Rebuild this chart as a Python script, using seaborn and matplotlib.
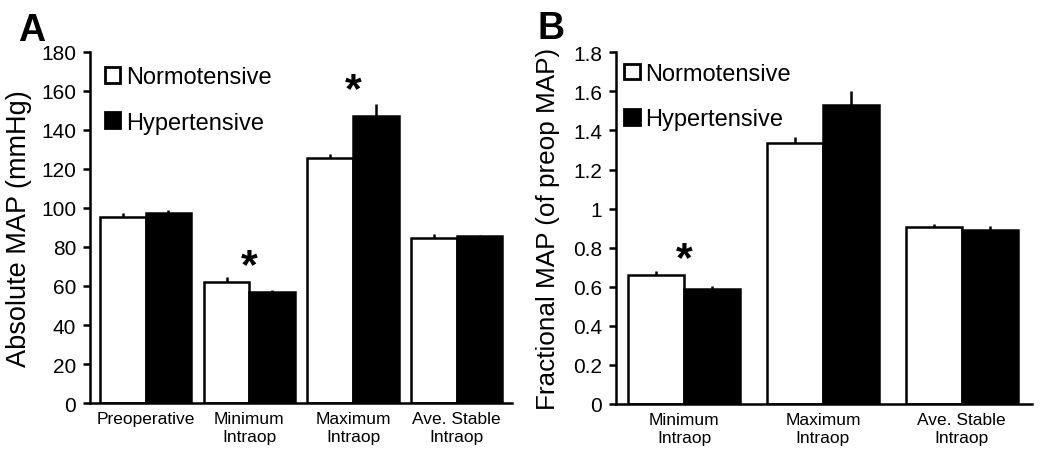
import pandas as pd
import matplotlib.pyplot as plt
import seaborn as sns
from matplotlib.patches import Patch
from matplotlib.ticker import FuncFormatter

# --- data ---
groups = ["Normotensive", "Hypertensive"]

cats_a = ["Preoperative", "Minimum\nIntraop", "Maximum\nIntraop", "Ave. Stable\nIntraop"]
norm_a = [95.2, 62.2, 125.6, 84.7]
norm_a_err = [2.2, 2.5, 2.3, 2.0]
hyper_a = [97.4, 56.8, 147.0, 85.6]
hyper_a_err = [1.6, 1.4, 6.3, 0.7]
stars_a = [(1, 70), (2, 160.5)]

cats_b = ["Minimum\nIntraop", "Maximum\nIntraop", "Ave. Stable\nIntraop"]
norm_b = [0.660, 1.334, 0.907]
norm_b_err = [0.022, 0.034, 0.014]
hyper_b = [0.589, 1.530, 0.890]
hyper_b_err = [0.017, 0.073, 0.021]
stars_b = [(0, 0.74)]

sns.set_style("ticks", {"axes.edgecolor": "black", "text.color": "black",
                        "axes.labelcolor": "black", "xtick.color": "black",
                        "ytick.color": "black"})
plt.rcParams["font.family"] = ["Liberation Sans", "DejaVu Sans"]


def panel(ax, cats, norm, norm_err, hyper, hyper_err, stars, width, ylim, yticks,
          ylabel, ylabel_size, xlim, legend_anchor, letter):
    df = pd.DataFrame({
        "cat": cats * 2,
        "val": norm + hyper,
        "err": norm_err + hyper_err,
        "grp": [groups[0]] * len(cats) + [groups[1]] * len(cats),
    })
    sns.barplot(data=df, x="cat", y="val", hue="grp", palette=["white", "black"],
                edgecolor="black", linewidth=1.8, width=width, gap=0,
                errorbar=None, legend=False, ax=ax)
    # upward-only error bars at each bar centre
    for cont, vals, errs in zip(ax.containers, [norm, hyper], [norm_err, hyper_err]):
        xs = [p.get_x() + p.get_width() / 2 for p in cont.patches]
        ax.errorbar(xs, vals, yerr=[[0] * len(errs), errs], fmt="none",
                    ecolor="black", elinewidth=1.8, capsize=0, zorder=1)
    for x, y in stars:
        ax.text(x, y, "*", ha="center", va="center", fontsize=31, fontweight="bold")

    ax.set_xlim(*xlim)
    ax.set_ylim(*ylim)
    ax.set_yticks(yticks)
    ax.yaxis.set_major_formatter(FuncFormatter(lambda v, p: f"{v:g}"))
    ax.set_xlabel("")
    ax.set_ylabel(ylabel, fontsize=ylabel_size)
    ax.tick_params(axis="y", labelsize=15, length=5, width=1.8, pad=5, direction="out")
    ax.tick_params(axis="x", labelsize=12.5, length=0, pad=6)
    for s in ["left", "bottom"]:
        ax.spines[s].set_linewidth(1.8)
    sns.despine(ax=ax)

    handles = [Patch(facecolor=c, edgecolor="black", linewidth=2) for c in ["white", "black"]]
    ax.legend(handles, groups, loc="upper left", bbox_to_anchor=legend_anchor,
              frameon=False, fontsize=17, handlelength=0.65, handleheight=0.65,
              handletextpad=0.25, labelspacing=1.0, borderpad=0, borderaxespad=0)
    ax.text(-0.17, 1.115, letter, transform=ax.transAxes, fontsize=27,
            fontweight="bold", ha="left", va="top")


fig = plt.figure(figsize=(10.5, 4.64), dpi=100)
ax_a = fig.add_axes([0.0857, 0.1293, 0.4016, 0.7565])
ax_b = fig.add_axes([0.5867, 0.1272, 0.3959, 0.7580])

panel(ax_a, cats_a, norm_a, norm_a_err, hyper_a, hyper_a_err, stars_a, 0.88,
      (0, 180), range(0, 181, 20), "Absolute MAP (mmHg)", 19.5, (-0.537, 3.53),
      (0.035, 0.96), "A")
panel(ax_b, cats_b, norm_b, norm_b_err, hyper_b, hyper_b_err, stars_b, 0.81,
      (0, 1.8), [i / 10 for i in range(0, 19, 2)], "Fractional MAP (of preop MAP)", 18.8,
      (-0.49, 2.504), (0.02, 0.97), "B")

ax_a.yaxis.set_label_coords(-0.1375, 0.5)
ax_b.yaxis.set_label_coords(-0.135, 0.50)
ax_b.texts[-1].set_position((-0.19, 1.12))

fig.savefig("out.png", dpi=100)
